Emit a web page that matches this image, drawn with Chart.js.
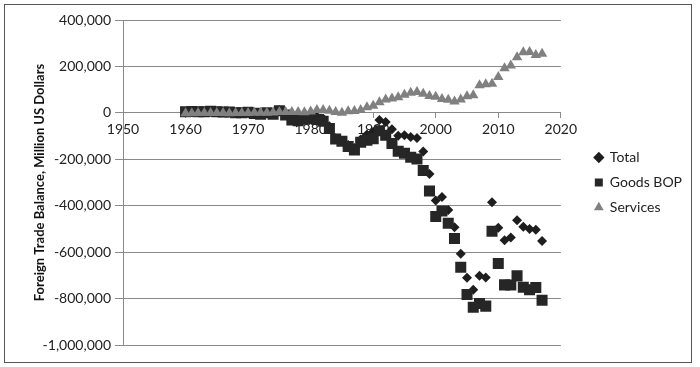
<!DOCTYPE html>
<html>
<head>
<meta charset="utf-8">
<script src="https://cdn.jsdelivr.net/npm/chart.js@4.4.1/dist/chart.umd.min.js"></script>
<style>
  body { margin: 0; background: #fff; }
  #wrap { position: relative; width: 700px; height: 367px; }
  #frame { position: absolute; left: 4px; top: 4px; width: 686px; height: 357px; border: 1px solid #555; pointer-events: none; }
</style>
</head>
<body>
<div id="wrap">
  <canvas id="tradeChart" width="700" height="367"></canvas>
  <div id="frame"></div>
</div>
<script>
// ========== DATA ========== //
const years = [
  1960, 1961, 1962, 1963, 1964, 1965, 1966, 1967, 1968, 1969,
  1970, 1971, 1972, 1973, 1974, 1975, 1976, 1977, 1978, 1979,
  1980, 1981, 1982, 1983, 1984, 1985, 1986, 1987, 1988, 1989,
  1990, 1991, 1992, 1993, 1994, 1995, 1996, 1997, 1998, 1999,
  2000, 2001, 2002, 2003, 2004, 2005, 2006, 2007, 2008, 2009,
  2010, 2011, 2012, 2013, 2014, 2015, 2016, 2017
];

const totalValues = [
  3508, 4270, 3384, 4251, 6348, 4664, 2939, 2604, 250, 91,
  2254, -1303, -5443, 1900, -4292, 12404, -6082, -27246, -29763, -24565,
  -19407, -16172, -24156, -57767, -109073, -121879, -138538, -151683, -114566, -93142,
  -80864, -31135, -39212, -70311, -98493, -96384, -104065, -108273, -166140, -263364,
  -377783, -362870, -418745, -493143, -607366, -710804, -761689, -702196, -709492, -384694,
  -494678, -548999, -537119, -462244, -490544, -499868, -503507, -552495
];

const goodsValues = [
  4892, 5571, 4521, 5224, 6801, 4951, 3817, 3800, 635, 607,
  2603, -2260, -6416, 911, -5505, 8903, -9483, -31091, -33927, -27568,
  -25500, -28023, -36485, -67102, -112492, -122173, -145081, -159557, -126959, -117749,
  -111037, -76937, -96897, -132451, -165831, -174170, -191000, -198428, -248221, -336264,
  -446783, -422370, -475245, -541643, -664766, -782804, -837289, -821196, -832492, -509694,
  -648678, -740999, -741119, -702244, -751544, -761868, -752507, -807495
];

const servicesValues = [
  -1384, -1301, -1137, -973, -453, -287, -878, -1196, -385, -516,
  -349, 957, 973, 989, 1213, 3501, 3401, 3845, 4164, 3003,
  6093, 11852, 12329, 9335, 3419, 294, 6543, 7874, 12392, 24607,
  30173, 45802, 57685, 62141, 67338, 77782, 86935, 90155, 82081, 72900,
  69000, 59500, 56500, 48500, 57400, 72000, 75600, 119000, 123000, 125000,
  154000, 192000, 204000, 240000, 261000, 262000, 249000, 255000
];

const seriesNames = ["Total", "Goods BOP", "Services"];
const yTitle = "Foreign Trade Balance, Million US Dollars";

// ========== HELPERS ========== //
function toPoints(values) {
  return years.map((yr, i) => ({ x: yr, y: values[i] }));
}

const tickFont = { family: "Lato", size: 14 };
const gridGray = "#8a8a8a";

// ========== SCATTER CHART ========== //
const ctx = document.getElementById("tradeChart").getContext("2d");

new Chart(ctx, {
  type: "scatter",
  data: {
    datasets: [
      {
        label: seriesNames[0],
        data: toPoints(totalValues),
        pointStyle: "rectRot",
        pointRadius: 5,
        backgroundColor: "#1e1e1e",
        borderColor: "#1e1e1e",
        borderWidth: 0,
        order: 3
      },
      {
        label: seriesNames[1],
        data: toPoints(goodsValues),
        pointStyle: "rect",
        pointRadius: 7.8,
        backgroundColor: "#262626",
        borderColor: "#262626",
        borderWidth: 0,
        order: 2
      },
      {
        label: seriesNames[2],
        data: toPoints(servicesValues),
        pointStyle: "triangle",
        pointRadius: 6,
        backgroundColor: "#808080",
        borderColor: "#808080",
        borderWidth: 0,
        order: 1
      }
    ]
  },
  options: {
    responsive: false,
    animation: false,
    layout: {
      padding: { left: 28, top: 20, right: 8, bottom: 22 }
    },
    plugins: {
      tooltip: { enabled: false },
      legend: {
        position: "right",
        labels: {
          usePointStyle: true,
          boxWidth: 8,
          boxHeight: 8,
          padding: 11,
          color: "#222",
          font: { family: "Lato", size: 14 },
          // keep legend in dataset order, not draw order
          sort: (a, b) => a.datasetIndex - b.datasetIndex
        }
      }
    },
    scales: {
      x: {
        type: "linear",
        position: { y: 0 },
        z: 1, // year labels sit on top of the markers
        min: 1950,
        max: 2020,
        ticks: {
          stepSize: 10,
          color: "#222",
          font: tickFont,
          padding: 3,
          callback: v => String(v)
        },
        grid: {
          drawOnChartArea: false,
          drawTicks: true,
          tickLength: 5,
          color: gridGray
        },
        border: { display: true, color: gridGray }
      },
      y: {
        min: -1000000,
        max: 400000,
        ticks: {
          stepSize: 200000,
          color: "#222",
          font: tickFont,
          padding: 4,
          callback: v => Number(v).toLocaleString("en-US")
        },
        grid: {
          color: gridGray,
          tickLength: 8
        },
        border: { display: true, color: gridGray },
        title: {
          display: true,
          text: yTitle,
          color: "#111",
          font: { family: "Lato", size: 13, weight: "bold" },
          padding: { top: 4, bottom: 0 }
        },
        afterFit: scale => { scale.width = 95; }
      },
      // empty spacer between plot and legend
      gap: {
        type: "linear",
        position: "right",
        ticks: { display: false },
        grid: { display: false },
        border: { display: false },
        afterFit: scale => { scale.width = 23; }
      }
    }
  }
});
</script>
</body>
</html>
